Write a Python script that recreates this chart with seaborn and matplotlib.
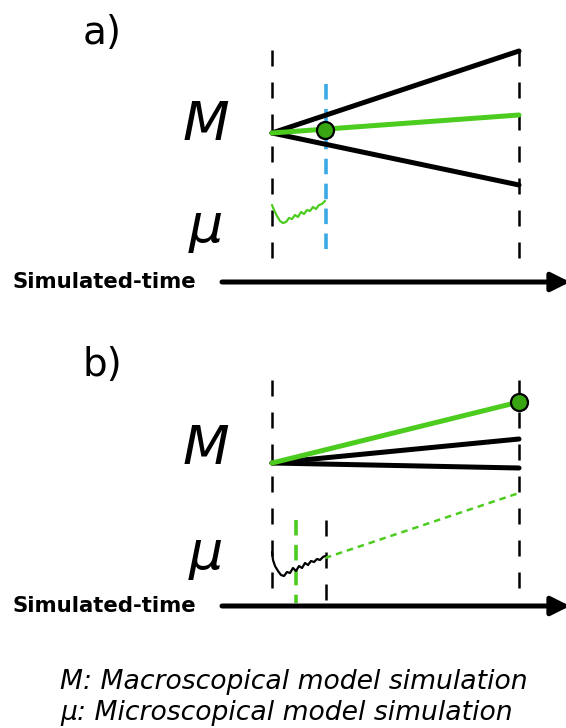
import numpy as np
import pandas as pd
import seaborn as sns
import matplotlib.pyplot as plt

# ------------------------------------------------------------
# schematic data (pixel space, y grows downward)
# ------------------------------------------------------------
panel_labels = ["a)", "b)"]
label_y = [44, 376]

t_start = 272
t_end = 519

# panel a: macro lines from common start point
a_start_y = 133
a_black_end_y = [51, 185]
a_green_end_y = 115
a_dot = (325, 130)

# panel a: micro trace (green)
a_micro_x = [272, 274, 277, 280, 283, 286, 289, 292, 295, 298, 301, 304,
             307, 310, 313, 316, 319, 322, 325]
a_micro_y = [205, 210, 216, 221, 223, 222, 218, 219, 215, 217, 212, 214,
             210, 211, 207, 209, 205, 204, 201]

# panel b: macro lines
b_start_y = 463
b_black_end_y = [439, 468]
b_green_end_y = 402
b_dot = (519, 402)
b_extrap_x = [325, 519]
b_extrap_y = [558, 493]

# panel b: micro trace (black)
b_micro_x = [272, 273, 275, 278, 281, 284, 287, 290, 293, 296, 299, 302,
             305, 308, 311, 314, 317, 320, 323, 325]
b_micro_y = [552, 560, 566, 571, 575, 576, 572, 573, 568, 571, 566, 568,
             563, 565, 561, 562, 559, 560, 557, 556]

# dashed verticals: (x, y_top, y_bottom, colour)
verticals = [
    (272, 50, 265, "black"),
    (519, 50, 265, "black"),
    (326, 84, 258, "#3ba8e6"),
    (272, 380, 602, "black"),
    (519, 380, 592, "black"),
    (326, 520, 606, "black"),
    (296, 520, 603, "#4ccc1e"),
]

arrow_y = [282, 606]
axis_label = "Simulated-time"
captions = ["M: Macroscopical model simulation", "\u03bc: Microscopical model simulation"]

GREEN = "#4ccc1e"
DOT_GREEN = "#38a512"

# ------------------------------------------------------------
sns.set_theme(style="white")
plt.rcParams['font.family'] = ['DejaVu Sans']
plt.rcParams['text.color'] = 'black'

fig = plt.figure(figsize=(5.66, 7.28), dpi=100)
ax = fig.add_axes([0, 0, 1, 1])
ax.set_xlim(0, 566)
ax.set_ylim(728, 0)
ax.axis("off")

# dashed verticals
for x, y0, y1, c in verticals:
    if c == "black":
        ax.plot([x, x], [y0, y1], color=c, lw=1.8, linestyle=(0, (6.4, 6.4)),
                solid_capstyle="butt")
    else:
        ax.plot([x, x], [y0, y1], color=c, lw=2.6, linestyle=(0, (4.3, 2.6)),
                solid_capstyle="butt")

# panel a macro lines
for ye in a_black_end_y:
    sns.lineplot(x=[t_start, t_end], y=[a_start_y, ye], color="black", lw=3.6, ax=ax)
sns.lineplot(x=[t_start, t_end], y=[a_start_y, a_green_end_y], color=GREEN, lw=3.6, ax=ax)
ax.scatter([a_dot[0]], [a_dot[1]], s=150, color=DOT_GREEN, edgecolor="black",
           linewidth=1.6, zorder=5)
micro_a = pd.DataFrame({"t": a_micro_x, "v": a_micro_y})
sns.lineplot(data=micro_a, x="t", y="v", sort=False, estimator=None, color=GREEN,
             lw=1.6, ax=ax)

# panel b macro lines
for ye in b_black_end_y:
    sns.lineplot(x=[t_start, t_end], y=[b_start_y, ye], color="black", lw=3.6, ax=ax)
sns.lineplot(x=[t_start, t_end], y=[b_start_y, b_green_end_y], color=GREEN, lw=3.6, ax=ax)
ax.plot(b_extrap_x, b_extrap_y, color=GREEN, lw=1.8, linestyle=(0, (2.6, 2.0)))
ax.scatter([b_dot[0]], [b_dot[1]], s=150, color=DOT_GREEN, edgecolor="black",
           linewidth=1.6, zorder=5)
micro_b = pd.DataFrame({"t": b_micro_x, "v": b_micro_y})
sns.lineplot(data=micro_b, x="t", y="v", sort=False, estimator=None, color="black",
             lw=1.6, ax=ax)

# time arrows and labels
for ya in arrow_y:
    ax.annotate("", xy=(570, ya), xytext=(222, ya), annotation_clip=False,
                arrowprops=dict(arrowstyle="-|>", lw=3.6, color="black",
                                mutation_scale=28, shrinkA=0, shrinkB=0))
    ax.text(12, ya + 6, axis_label, fontsize=15.3, fontweight="bold",
            ha="left", va="baseline", color="black")

# panel letters and M / mu symbols
for lab, ly in zip(panel_labels, label_y):
    ax.text(83, ly, lab, fontsize=28, ha="left", va="baseline", color="black")

for my, uy in [(140, 242), (464, 569)]:
    ax.text(183, my, "M", fontsize=39, style="italic", ha="left", va="baseline",
            color="black")
    ax.text(189, uy, "\u03bc", fontsize=39, style="italic", ha="left", va="baseline",
            color="black")

# captions
ax.text(60, 689, captions[0], fontsize=19.2, style="italic", ha="left",
        va="baseline", color="black")
ax.text(60, 720, captions[1], fontsize=19.2, style="italic", ha="left",
        va="baseline", color="black")

ax.set_xlabel("")
ax.set_ylabel("")
fig.savefig("out.png", dpi=100)
